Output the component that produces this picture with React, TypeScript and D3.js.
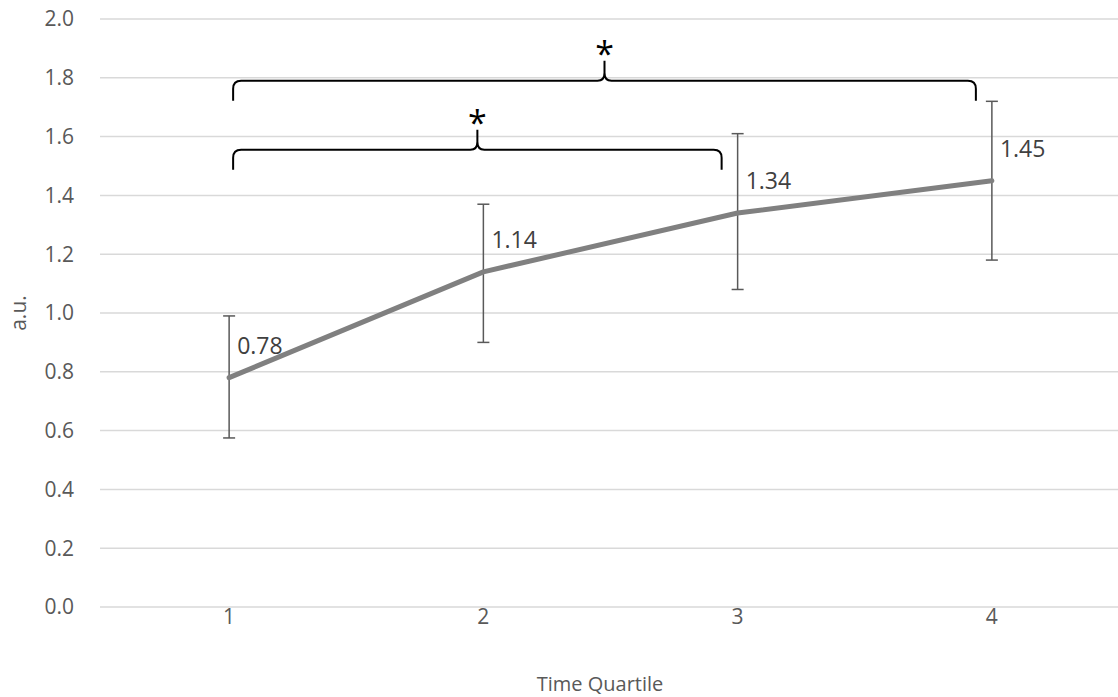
import React from 'react';
import * as d3 from 'd3';

const categories = ['1', '2', '3', '4'];
const means = [0.78, 1.14, 1.34, 1.45];
const errUpper = [0.99, 1.37, 1.61, 1.72];
const errLower = [0.575, 0.9, 1.08, 1.18];
const yTicks = [0, 0.2, 0.4, 0.6, 0.8, 1.0, 1.2, 1.4, 1.6, 1.8, 2.0];
const braces = [
  { from: '1', to: '4', level: 1.79, mark: '*' },
  { from: '1', to: '3', level: 1.555, mark: '*' },
];

const W = 1118;
const H = 697;
const FONT = '"Open Sans", "Noto Sans", sans-serif';

const App: React.FC = () => {
  const x = d3.scaleBand<string>().domain(categories).range([102, 1119]);
  const cx = (c: string) => (x(c) as number) + x.bandwidth() / 2;
  const y = d3.scaleLinear().domain([0, 2]).range([607, 19]);

  const line = d3
    .line<number>()
    .x((d, i) => cx(categories[i]))
    .y((d) => y(d));

  // curly brace path, opening downwards, with a pointed tip in the middle
  const bracePath = (x1: number, x2: number, yy: number) => {
    const r = 8;
    const drop = 20;
    const mid = (x1 + x2) / 2;
    return [
      `M${x1},${yy + drop}`,
      `L${x1},${yy + r}`,
      `Q${x1},${yy} ${x1 + r},${yy}`,
      `L${mid - 7},${yy}`,
      `Q${mid},${yy} ${mid},${yy - 8}`,
      `L${mid},${yy - 20}`,
      `M${mid},${yy - 8}`,
      `Q${mid},${yy} ${mid + 7},${yy}`,
      `L${x2 - r},${yy}`,
      `Q${x2},${yy} ${x2},${yy + r}`,
      `L${x2},${yy + drop}`,
    ].join(' ');
  };

  const capW = 6;

  return (
    <svg
      width={W}
      height={H}
      style={{ position: 'absolute', left: 0, top: 0, background: '#fff' }}
      fontFamily={FONT}
    >
      {/* gridlines */}
      {yTicks.map((t) => (
        <line
          key={'g' + t}
          x1={100}
          x2={1118}
          y1={y(t)}
          y2={y(t)}
          stroke="#d9d9d9"
          strokeWidth={1.5}
        />
      ))}
      {/* y tick labels */}
      {yTicks.map((t) => (
        <text
          key={'t' + t}
          x={74}
          y={y(t)}
          dy="0.35em"
          textAnchor="end"
          fontSize={21}
          fill="#595959"
        >
          {d3.format('.1f')(t)}
        </text>
      ))}
      {/* x tick labels */}
      {categories.map((c) => (
        <text
          key={'x' + c}
          x={cx(c)}
          y={617}
          dy="0.35em"
          textAnchor="middle"
          fontSize={21}
          fill="#595959"
        >
          {c}
        </text>
      ))}
      <text
        x={600}
        y={684}
        dy="0.35em"
        textAnchor="middle"
        fontSize={20}
        fill="#595959"
      >
        Time Quartile
      </text>
      <text
        transform={`translate(19, ${(y(0) + y(2)) / 2}) rotate(-90)`}
        dy="0.35em"
        textAnchor="middle"
        fontSize={21}
        fill="#595959"
      >
        a.u.
      </text>

      {/* error bars */}
      {categories.map((c, i) => (
        <g key={'e' + c} stroke="#595959" strokeWidth={1.5}>
          <line x1={cx(c)} x2={cx(c)} y1={y(errUpper[i])} y2={y(errLower[i])} />
          <line x1={cx(c) - capW} x2={cx(c) + capW} y1={y(errUpper[i])} y2={y(errUpper[i])} />
          <line x1={cx(c) - capW} x2={cx(c) + capW} y1={y(errLower[i])} y2={y(errLower[i])} />
        </g>
      ))}

      {/* series line */}
      <path
        d={line(means) as string}
        fill="none"
        stroke="#808080"
        strokeWidth={5}
        strokeLinecap="round"
        strokeLinejoin="round"
      />

      {/* data labels */}
      {categories.map((c, i) => (
        <text
          key={'l' + c}
          x={cx(c) + 8}
          y={y(means[i]) - 24}
          fontSize={23}
          fill="#404040"
        >
          {means[i].toFixed(2)}
        </text>
      ))}

      {/* significance braces */}
      {braces.map((b, i) => {
        const x1 = cx(b.from) + 4;
        const x2 = cx(b.to) - 16;
        const yy = y(b.level);
        return (
          <g key={'b' + i}>
            <path d={bracePath(x1, x2, yy)} fill="none" stroke="#000" strokeWidth={2} />
            <text
              x={(x1 + x2) / 2}
              y={yy - 22 + 7}
              textAnchor="middle"
              fontSize={34}
              fill="#000"
            >
              {b.mark}
            </text>
          </g>
        );
      })}
    </svg>
  );
};

export default App;
